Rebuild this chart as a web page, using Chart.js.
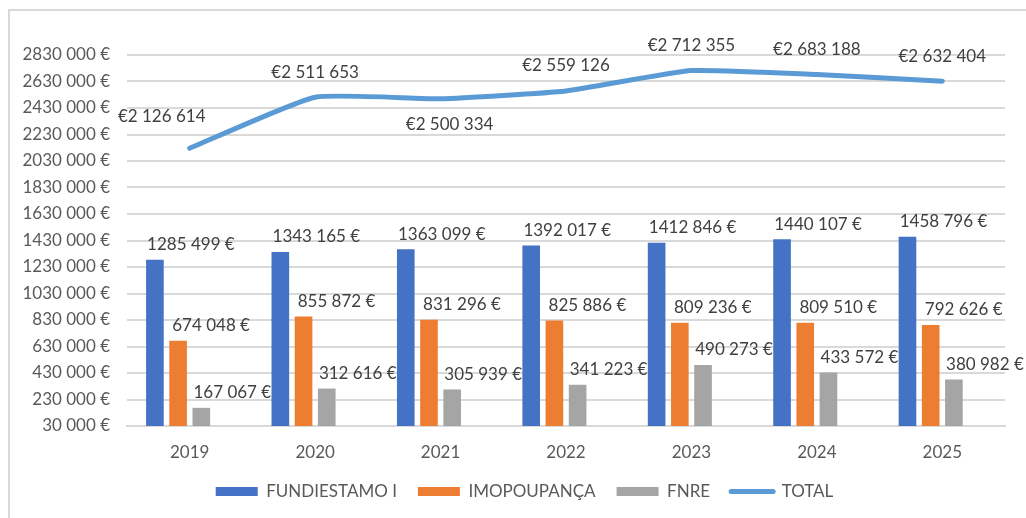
<!DOCTYPE html>
<html>
<head>
<meta charset="utf-8">
<script src="https://cdn.jsdelivr.net/npm/chart.js@4.4.1/dist/chart.umd.min.js"></script>
<style>
  html, body { margin: 0; padding: 0; background: #fff; overflow: hidden; }
  #frame { position: absolute; left: 8px; top: 9px; width: 1200px; height: 700px;
           border-left: 2px solid #d9d9d9; border-top: 2px solid #d9d9d9; }
  #wrap { position: absolute; left: 0; top: 0; width: 1026px; height: 518px; }
</style>
</head>
<body>
<div id="frame"></div>
<div id="wrap"><canvas id="chart" width="1026" height="518"></canvas></div>
<script>
// Data
const years = ['2019', '2020', '2021', '2022', '2023', '2024', '2025'];
const fundiestamo = [1285499, 1343165, 1363099, 1392017, 1412846, 1440107, 1458796];
const imopoupanca = [674048, 855872, 831296, 825886, 809236, 809510, 792626];
const fnre = [167067, 312616, 305939, 341223, 490273, 433572, 380982];
const total = [2126614, 2511653, 2500334, 2559126, 2712355, 2683188, 2632404];
const yTickLabels = ['30 000 €', '230 000 €', '430 000 €', '630 000 €', '830 000 €', '1030 000 €',
    '1230 000 €', '1430 000 €', '1630 000 €', '1830 000 €', '2030 000 €', '2230 000 €',
    '2430 000 €', '2630 000 €', '2830 000 €'];
// where each TOTAL label sits relative to its point
const totalLabelPlace = ['left', 'above', 'below', 'above', 'above', 'above', 'above'];

const FONT = 'Lato, "Open Sans", sans-serif';
const FSIZE = 17;
const pad3 = n => String(n).padStart(3, '0');

// "1285 499 €"
const fmtBar = v => {
    const k = Math.floor(v / 1000);
    return k + ' ' + pad3(v % 1000) + ' €';
};
// "€2 126 614"
const fmtTotal = v => {
    const m = Math.floor(v / 1000000);
    const k = Math.floor((v % 1000000) / 1000);
    return '€' + m + ' ' + pad3(k) + ' ' + pad3(v % 1000);
};

// bar labels sit up and to the right of each bar, like the Excel original
const barLabelShift = [36, 33, 31];

const valueLabels = {
    id: 'valueLabels',
    afterDatasetsDraw(chart) {
        const ctx = chart.ctx;
        ctx.save();
        ctx.font = FSIZE + 'px ' + FONT;
        ctx.fillStyle = '#404040';
        ctx.textAlign = 'center';
        ctx.textBaseline = 'middle';
        [0, 1, 2].forEach(i => {
            const meta = chart.getDatasetMeta(i);
            const vals = chart.data.datasets[i].data;
            meta.data.forEach((bar, j) => {
                ctx.fillText(fmtBar(vals[j]), bar.x + barLabelShift[i], bar.y - 15);
            });
        });
        const lineIdx = chart.data.datasets.findIndex(d => d.type === 'line');
        const lineMeta = chart.getDatasetMeta(lineIdx);
        lineMeta.data.forEach((pt, j) => {
            let dx = 0, dy = -25;
            if (totalLabelPlace[j] === 'left') { dx = -28; dy = -32; }
            if (totalLabelPlace[j] === 'below') { dx = 9; dy = 26; }
            ctx.fillText(fmtTotal(total[j]), pt.x + dx, pt.y + dy);
        });
        ctx.restore();
    }
};

// the legend row in the original sits a bit right of the canvas centre
const legendShift = {
    id: 'legendShift',
    afterLayout(chart) {
        chart.legend.left += 22;
        chart.legend.right += 22;
    }
};

new Chart(document.getElementById('chart'), {
    data: {
        labels: years,
        datasets: [
            { type: 'bar', label: 'FUNDIESTAMO I', data: fundiestamo, backgroundColor: '#4472c4' },
            { type: 'bar', label: 'IMOPOUPANÇA', data: imopoupanca, backgroundColor: '#ed7d31' },
            { type: 'bar', label: 'FNRE', data: fnre, backgroundColor: '#a5a5a5' },
            // empty slot kept by the original chart for the total series
            { type: 'bar', label: '', data: years.map(() => null), backgroundColor: 'rgba(0,0,0,0)' },
            {
                type: 'line', label: 'TOTAL', data: total,
                borderColor: '#5b9bd5', backgroundColor: '#5b9bd5',
                borderWidth: 5, borderCapStyle: 'round', borderJoinStyle: 'round',
                pointRadius: 0, tension: 0.15
            }
        ]
    },
    options: {
        responsive: false,
        animation: false,
        datasets: {
            bar: { categoryPercentage: 0.74, barPercentage: 0.76, borderWidth: 0 }
        },
        layout: { padding: { left: 0, right: 21, top: 55, bottom: 8 } },
        scales: {
            x: {
                grid: { display: false, drawTicks: false },
                border: { display: true, color: '#d9d9d9', width: 2 },
                ticks: { color: '#595959', font: { family: FONT, size: FSIZE }, padding: 16 },
                afterFit: s => { s.height = 36; }
            },
            y: {
                min: 30000,
                max: 2830000,
                border: { display: false },
                grid: { color: '#d9d9d9', lineWidth: 2, drawTicks: false },
                ticks: {
                    stepSize: 200000,
                    padding: 17,
                    color: '#595959',
                    font: { family: FONT, size: FSIZE },
                    callback: (v, i) => yTickLabels[i]
                },
                afterFit: s => { s.width = 127; }
            }
        },
        plugins: {
            tooltip: { enabled: false },
            legend: {
                position: 'bottom',
                labels: {
                    usePointStyle: true,
                    pointStyleWidth: 42,
                    boxHeight: 9,
                    padding: 21,
                    color: '#595959',
                    font: { family: FONT, size: FSIZE },
                    filter: item => item.text !== '',
                    generateLabels: chart => {
                        const items = Chart.defaults.plugins.legend.labels.generateLabels(chart);
                        return items.map(it => {
                            const ds = chart.data.datasets[it.datasetIndex];
                            it.pointStyle = ds.type === 'line' ? 'line' : 'rect';
                            if (ds.type === 'line') { it.lineCap = 'round'; it.strokeStyle = '#5b9bd5'; }
                            return it;
                        });
                    }
                }
            }
        }
    },
    plugins: [valueLabels, legendShift]
});
</script>
</body>
</html>
